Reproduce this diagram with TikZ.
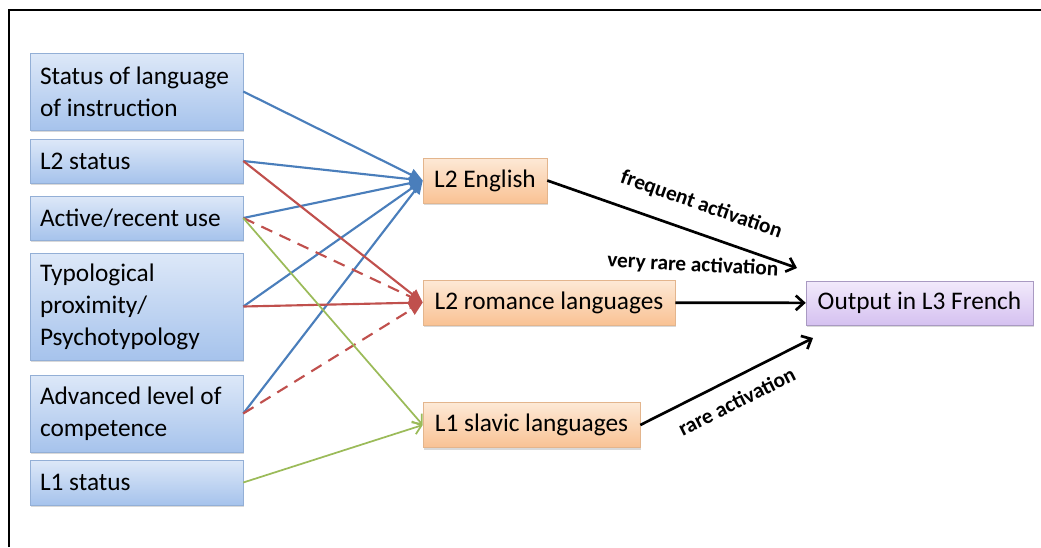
\documentclass[tikz,border=0pt]{standalone}
\usepackage{fontspec}
\setmainfont{Carlito}
\usetikzlibrary{arrows.meta,shadows}

\definecolor{factortop}{HTML}{DDE8F8}
\definecolor{factorbot}{HTML}{A6C3EC}
\definecolor{factorline}{HTML}{93AFD6}
\definecolor{langtop}{HTML}{FDE9D6}
\definecolor{langbot}{HTML}{F9C294}
\definecolor{langline}{HTML}{E3B58D}
\definecolor{outtop}{HTML}{F2EAFB}
\definecolor{outbot}{HTML}{D5C1F0}
\definecolor{outline}{HTML}{A99AC2}
\definecolor{linkblue}{HTML}{4A7EBB}
\definecolor{linkred}{HTML}{C0504D}
\definecolor{linkgreen}{HTML}{9BBB59}

\begin{document}
\begin{tikzpicture}[
  x=0.75pt, y=-0.75pt,
  shade box/.style={drop shadow={shadow xshift=0.8pt, shadow yshift=-1.8pt, opacity=0.3}},
  factor/.style={shade box, draw=factorline, top color=factortop, bottom color=factorbot, text width=144.75pt, inner xsep=7.5pt, align=flush left, font=\fontsize{19}{24}\selectfont},
  lang/.style={shade box, draw=langline, top color=langtop, bottom color=langbot, minimum height=33.75pt, font=\fontsize{19}{24}\selectfont},
  result/.style={shade box, draw=outline, top color=outtop, bottom color=outbot, minimum height=33pt, font=\fontsize{19}{24}\selectfont},
  toeng/.style={draw=linkblue, line width=1.6pt, -{Triangle[length=10pt, width=9pt]}},
  torom/.style={draw=linkred, line width=1.6pt, -{Triangle[length=10pt, width=9pt]}},
  toslav/.style={draw=linkgreen, line width=1.3pt, -{Straight Barb[length=6pt, width=10pt]}},
  act/.style={line width=2pt, -{Straight Barb[length=6pt, width=11pt]}},
  lbl/.style={font=\bfseries\fontsize{16}{18}\selectfont, inner sep=1pt}
]
  \useasboundingbox (0,0) rectangle (1041,547);
  \draw[line width=1.5pt] (9,547) -- (9,10) -- (1041,10);

  % factors
  \node[factor, minimum height=57.75pt] (status) at (136.5,91.5) {Status of language\\of instruction};
  \node[factor, minimum height=33pt] (ltwo) at (136.5,161) {L2 status};
  \node[factor, minimum height=33pt] (active) at (136.5,218) {Active/recent use};
  \node[factor, minimum height=80.25pt] (typo) at (136.5,306.5) {Typological\\proximity/\\Psychotypology};
  \node[factor, minimum height=57.75pt] (adv) at (136.5,413.5) {Advanced level of\\competence};
  \node[factor, minimum height=33.75pt] (lone) at (136.5,482.5) {L1 status};

  % languages
  \node[lang, minimum width=93pt] (eng) at (485,180.5) {L2 English};
  \node[lang, minimum width=189pt] (rom) at (549,302.5) {L2 romance languages};
  \node[lang, minimum width=162.75pt] (slav) at (531.5,425) {L1 slavic languages};
  \node[result, minimum width=170.25pt] (out) at (919.5,303) {Output in L3 French};

  \coordinate (engtip) at (797,268);
  \coordinate (slavtip) at (813,338);

  \foreach \src in {status,ltwo,active,typo,adv}
    \draw[toeng] (\src.east) -- (eng.west);
  \draw[torom] (ltwo.east) -- (rom.west);
  \draw[torom] (typo.east) -- (rom.west);
  \draw[torom, dash pattern=on 9pt off 6pt] (active.east) -- (rom.west);
  \draw[torom, dash pattern=on 9pt off 6pt] (adv.east) -- (rom.west);
  \draw[toslav] (active.east) -- (slav.west);
  \draw[toslav] (lone.east) -- (slav.west);

  \draw[act] (eng.east) -- node[lbl, sloped, above=12pt, pos=0.58] {frequent activation} (engtip);
  \draw[act] (rom) -- node[lbl, above=19pt, pos=0.13, rotate=-3] {very rare activation} (out);
  \draw[act] (slav.east) -- node[lbl, sloped, below=9pt, pos=0.5] {rare activation} (slavtip);
\end{tikzpicture}
\end{document}
